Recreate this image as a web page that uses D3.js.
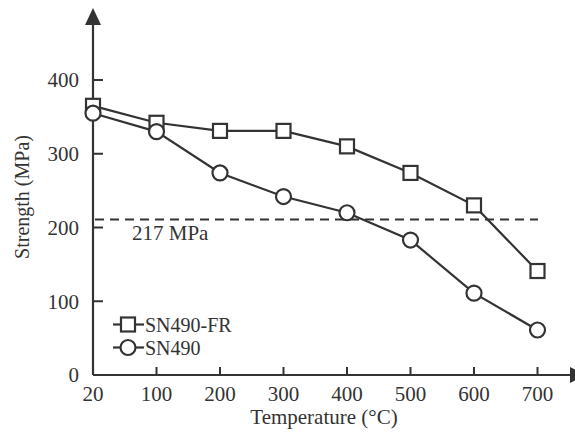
<!DOCTYPE html>
<html><head><meta charset="utf-8">
<script src="https://cdn.jsdelivr.net/npm/d3@7"></script>
<style>body{margin:0;background:#fff}svg{display:block}text{font-family:"Liberation Serif","Times New Roman",serif;fill:#333}</style>
</head><body><svg id="c" width="575" height="435"></svg>
<script>
const temps = ["20","100","200","300","400","500","600","700"];
const fr = [365, 342, 331, 331, 310, 274, 230, 141];
const sn = [355, 330, 274, 242, 220, 183, 111, 61];
const yTicks = [0, 100, 200, 300, 400];
const thresholdLine = 211;
const thresholdLabel = "217 MPa";
const seriesNames = ["SN490-FR", "SN490"];

const svg = d3.select("#c");
const col = "#333";
const fs = 21;
const x0 = 93, y0 = 375;
const x = d3.scalePoint().domain(temps).range([x0, 537.5]);
const y = d3.scaleLinear().domain([0, 400]).range([y0, 80]);

// axes lines
svg.append("line").attr("x1", x0).attr("x2", x0).attr("y1", y0).attr("y2", 20).attr("stroke", col).attr("stroke-width", 2.2);
svg.append("path").attr("d", `M${x0},8 L${x0-8},25 L${x0+8},25 Z`).attr("fill", col);
svg.append("line").attr("x1", x0).attr("x2", 572).attr("y1", y0).attr("y2", y0).attr("stroke", col).attr("stroke-width", 2.2);
svg.append("path").attr("d", `M586,${y0} L570,${y0-8} L570,${y0+8} Z`).attr("fill", col);

// y ticks
const ya = svg.append("g");
yTicks.forEach(t => {
  if (t > 0) ya.append("line").attr("x1", x0).attr("x2", x0 + 10).attr("y1", y(t)).attr("y2", y(t)).attr("stroke", col).attr("stroke-width", 2);
  ya.append("text").attr("x", 79).attr("y", y(t)).attr("dy", "0.35em").attr("text-anchor", "end").attr("font-size", fs).text(t);
});
// x ticks
temps.forEach((t, i) => {
  if (i > 0) svg.append("line").attr("x1", x(t)).attr("x2", x(t)).attr("y1", y0).attr("y2", y0 - 8).attr("stroke", col).attr("stroke-width", 2);
  svg.append("text").attr("x", x(t)).attr("y", 401).attr("text-anchor", "middle").attr("font-size", fs).text(t);
});

// titles
svg.append("text").attr("x", 324).attr("y", 424).attr("text-anchor", "middle").attr("font-size", fs).text("Temperature (°C)");
svg.append("text").attr("transform", "translate(29,197) rotate(-90)").attr("text-anchor", "middle").attr("font-size", 20).text("Strength (MPa)");

// threshold
svg.append("line").attr("x1", 95).attr("x2", 538).attr("y1", y(thresholdLine)).attr("y2", y(thresholdLine))
  .attr("stroke", col).attr("stroke-width", 2).attr("stroke-dasharray", "9,6");
svg.append("text").attr("x", 132).attr("y", 240).attr("font-size", fs).text(thresholdLabel);

// lines
const line = d3.line().x((d, i) => x(temps[i])).y(d => y(d));
svg.append("path").datum(sn).attr("d", line).attr("fill", "none").attr("stroke", col).attr("stroke-width", 2.2);
svg.append("path").datum(fr).attr("d", line).attr("fill", "none").attr("stroke", col).attr("stroke-width", 2.2);

const s = 14;
svg.selectAll(".sq").data(fr).join("rect").attr("x", (d, i) => x(temps[i]) - s/2).attr("y", d => y(d) - s/2)
  .attr("width", s).attr("height", s).attr("fill", "#fff").attr("stroke", col).attr("stroke-width", 2.2);
svg.selectAll(".ci").data(sn).join("circle").attr("cx", (d, i) => x(temps[i])).attr("cy", d => y(d)).attr("r", 7.5)
  .attr("fill", "#fff").attr("stroke", col).attr("stroke-width", 2.2);

// legend
const lg = svg.append("g");
[324.5, 347.5].forEach((ly, k) => {
  lg.append("line").attr("x1", 113).attr("x2", 144).attr("y1", ly).attr("y2", ly).attr("stroke", col).attr("stroke-width", 2.2);
  if (k === 0) lg.append("rect").attr("x", 128 - s/2).attr("y", ly - s/2).attr("width", s).attr("height", s).attr("fill", "#fff").attr("stroke", col).attr("stroke-width", 2.2);
  else lg.append("circle").attr("cx", 128).attr("cy", ly).attr("r", 7.5).attr("fill", "#fff").attr("stroke", col).attr("stroke-width", 2.2);
  lg.append("text").attr("x", 145).attr("y", ly).attr("dy", "0.35em").attr("font-size", 20).text(seriesNames[k]);
});
</script></body></html>
